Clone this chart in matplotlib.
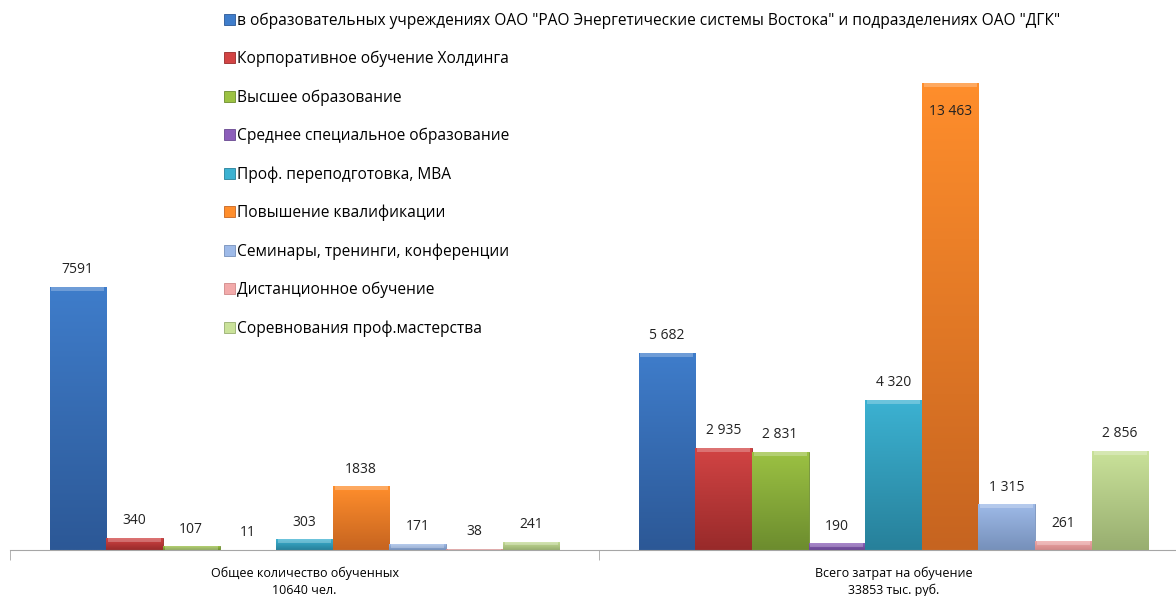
import numpy as np
import matplotlib
matplotlib.use("Agg")
import matplotlib.pyplot as plt
from matplotlib.colors import LinearSegmentedColormap

plt.rcParams['font.family'] = ['Open Sans', 'DejaVu Sans']

categories = ["Общее количество обученных\n10640 чел.",
              "Всего затрат на обучение\n33853 тыс. руб."]
series = ['в образовательных учреждениях ОАО "РАО Энергетические системы Востока" и подразделениях ОАО "ДГК"',
          "Корпоративное обучение Холдинга",
          "Высшее образование",
          "Среднее специальное образование",
          "Проф. переподготовка, МВА",
          "Повышение квалификации",
          "Семинары, тренинги, конференции",
          "Дистанционное обучение",
          "Соревнования проф.мастерства"]
people = [7591, 340, 107, 11, 303, 1838, 171, 38, 241]
costs = [5682, 2935, 2831, 190, 4320, 13463, 1315, 261, 2856]
top_colors = ["#3F7DCB", "#D24444", "#9CC243", "#8C5EBA", "#3CB2D2", "#FF8E2C", "#9EBAE8", "#F2AAAA", "#CAE29A"]
bot_colors = ["#2C5896", "#982A2A", "#6C8C2E", "#684890", "#27809A", "#C66420", "#7690BA", "#D08888", "#98AE70"]

fig = plt.figure(figsize=(11.76, 5.96), dpi=100)
ax = fig.add_axes([10 / 1176, 46 / 596, 1178 / 1176, 467 / 596])

n = len(series)
w = 0.0962
x = np.arange(len(categories))
grad = np.linspace(1, 0, 256).reshape(-1, 1)

handles = []
for i in range(n):
    vals = [people[i], costs[i]]
    pos = x + (i - (n - 1) / 2) * w
    bars = ax.bar(pos, vals, w, color=top_colors[i], edgecolor=bot_colors[i], linewidth=0.6, label=series[i])
    handles.append(bars[0])
    cmap = LinearSegmentedColormap.from_list("g%d" % i, [bot_colors[i], top_colors[i]])
    for b in bars:
        bx, by = b.get_x(), b.get_y()
        bw, bh = b.get_width(), b.get_height()
        im = ax.imshow(grad, cmap=cmap, extent=[bx, bx + bw, by, by + bh], aspect="auto", zorder=2)
        im.set_clip_path(b)
        # light bevel strip on top
        cap = min(bh, 110)
        ax.bar(bx + bw / 2, cap, bw * 0.94, bottom=by + bh - cap, color="white", alpha=0.25, linewidth=0, zorder=3)
    for j, v in enumerate(vals):
        txt = "%d" % v if j == 0 else "{:,}".format(v).replace(",", " ")
        if v > 10000:
            ax.annotate(txt, (pos[j], v), xytext=(0, -26), textcoords="offset points",
                        ha="center", va="bottom", fontsize=10, color="#222222", zorder=5)
        else:
            ax.annotate(txt, (pos[j], v), xytext=(0, 7), textcoords="offset points",
                        ha="center", va="bottom", fontsize=10, color="#222222", zorder=5)

ax.set_xlim(-0.5, 1.5)
ax.set_ylim(0, 13463)
for s in ["top", "left", "right"]:
    ax.spines[s].set_visible(False)
ax.spines["bottom"].set_color("#A6A6A6")
ax.set_yticks([])
ax.set_xticks(x)
ax.set_xticklabels(categories, fontsize=9, linespacing=1.35)
ax.tick_params(axis="x", which="major", length=0, pad=12)
ax.set_xticks([-0.5, 0.5, 1.5], minor=True)
ax.tick_params(axis="x", which="minor", length=7, color="#A6A6A6")

leg = fig.legend(handles, series, loc="upper left", bbox_to_anchor=(218 / 1176, 1 - 6 / 596),
                 frameon=False, fontsize=11.2, handlelength=0.7, handleheight=0.7,
                 handletextpad=0.15, labelspacing=1.42, borderaxespad=0)

fig.savefig("out.png", dpi=100)
